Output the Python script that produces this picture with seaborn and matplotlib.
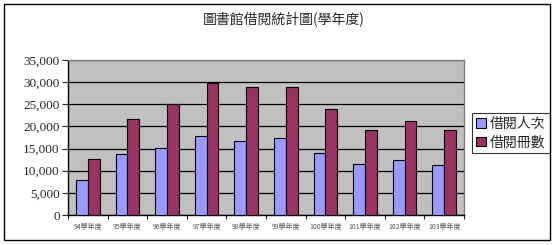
import matplotlib
matplotlib.use("Agg")
import matplotlib.pyplot as plt
import seaborn as sns
import pandas as pd
from matplotlib.patches import Rectangle

years = ["94學年度", "95學年度", "96學年度", "97學年度", "98學年度",
         "99學年度", "100學年度", "101學年度", "102學年度", "103學年度"]
visits = [7800, 13700, 15200, 17800, 16800, 17300, 14100, 11600, 12500, 11200]
volumes = [12700, 21600, 25000, 29900, 28800, 28800, 23900, 19300, 21300, 19300]
series = ["借閱人次", "借閱冊數"]
colors = ["#9999FF", "#993366"]
title = "圖書館借閱統計圖(學年度)"

df = pd.DataFrame({
    "year": years * 2,
    "value": visits + volumes,
    "series": [series[0]] * len(years) + [series[1]] * len(years),
})

sns.set_style("white")
plt.rcParams['font.family'] = ['Noto Sans CJK TC', 'DejaVu Sans']

fig = plt.figure(figsize=(5.56, 2.45), dpi=100)
ax = fig.add_axes([68/556, 1-215/245, (464-68)/556, (215-60)/245])
ax.set_facecolor("#C0C0C0")

sns.barplot(data=df, x="year", y="value", hue="series", hue_order=series,
            palette=colors, width=0.6, gap=0, edgecolor="black", linewidth=0.8,
            saturation=1, ax=ax, legend=True, zorder=3)

ax.set_ylim(0, 35000)
ax.set_xlim(-0.5, len(years) - 0.5)
ax.set_yticks(range(0, 35001, 5000))
ax.set_yticklabels([f"{v:,}" for v in range(0, 35001, 5000)])
for lab in ax.get_yticklabels():
    lab.set_fontfamily("Liberation Serif")
    lab.set_fontsize(9.5)
ax.yaxis.grid(True, color="black", linewidth=0.9, zorder=1)
ax.set_axisbelow(True)
ax.tick_params(axis="y", length=4, width=0.8, direction="out", left=True, pad=2)
ax.set_xticks(range(len(years)))
ax.set_xticklabels(years, fontsize=5, color="#555555")
ax.tick_params(axis="x", length=0, pad=6)
ax.set_xticks([i - 0.5 for i in range(len(years) + 1)], minor=True)
ax.tick_params(axis="x", which="minor", length=3, width=0.8, bottom=True)
ax.set_xlabel("")
ax.set_ylabel("")

for s in ["left", "bottom"]:
    ax.spines[s].set_color("black")
    ax.spines[s].set_linewidth(1)
for s in ["top", "right"]:
    ax.spines[s].set_color("#808080")
    ax.spines[s].set_linewidth(1)

leg = ax.legend(loc="upper left", bbox_to_anchor=(472/556, 1-113/245),
                bbox_transform=fig.transFigure, fontsize=10, frameon=True,
                fancybox=False, edgecolor="black", handlelength=0.7,
                handleheight=0.7, handletextpad=0.3, borderpad=0.3,
                labelspacing=0.3, borderaxespad=0)
leg.get_frame().set_linewidth(0.8)

fig.text(0.51, 1-20/245, title, ha="center", va="center", fontsize=10)

fig.patches.append(Rectangle((4/556, 1-240/245), (550-4)/556, (240-4)/245,
                             transform=fig.transFigure, fill=False,
                             edgecolor="black", linewidth=1))

fig.savefig("out.png", dpi=100)
